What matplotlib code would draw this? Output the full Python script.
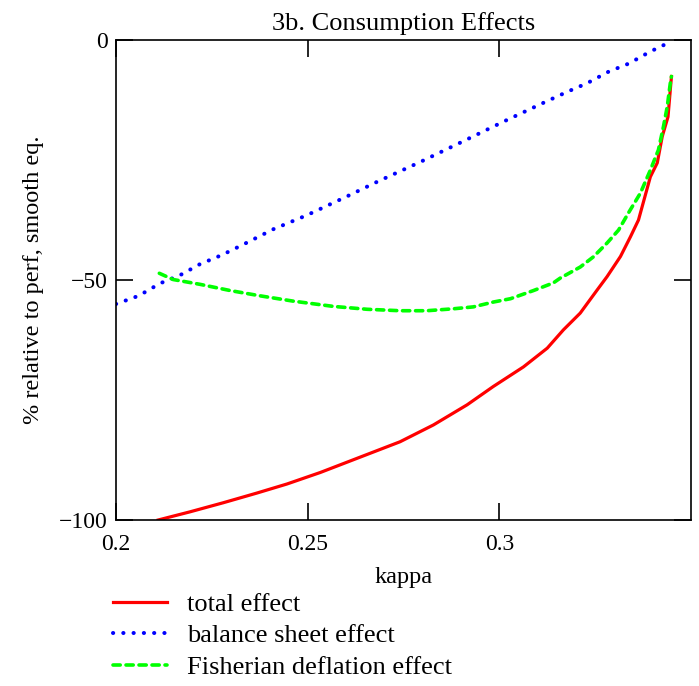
import matplotlib
matplotlib.use('Agg')
import matplotlib.pyplot as plt
import numpy as np

plt.rcParams.update({
    'font.family': ['Liberation Serif', 'DejaVu Serif'],
    'font.size': 17,
    'axes.linewidth': 1.2,
})

RED = '#ff0000'
BLUE = '#0000ff'
GREEN = '#00ff00'

# kappa grid for each series and the consumption effect (% relative to perf. smooth eq.)
total_kappa = [0.2110, 0.2193, 0.2280, 0.2367, 0.2446, 0.2533, 0.2637, 0.2741,
               0.2828, 0.2916, 0.2984, 0.3063, 0.3125, 0.3167, 0.3211, 0.3255,
               0.3281, 0.3316, 0.3342, 0.3363, 0.3394, 0.3412, 0.3425, 0.3440,
               0.3449]
total_effect = [-100.0, -98.3, -96.4, -94.4, -92.5, -90.1, -86.9, -83.7,
                -80.2, -76.0, -72.2, -68.1, -64.2, -60.4, -56.9, -52.1,
                -49.3, -45.1, -41.0, -37.5, -28.5, -25.6, -20.1, -16.0,
                -7.6]

balance_kappa = [0.2000, 0.2059, 0.2115, 0.2167, 0.2219, 0.2276, 0.2332, 0.2411,
                 0.2498, 0.2602, 0.2685, 0.2794, 0.2903, 0.3011, 0.3120, 0.3177,
                 0.3229, 0.3285, 0.3338, 0.3394, 0.3446]
balance_effect = [-55.0, -53.3, -50.7, -49.0, -46.7, -44.8, -42.6, -39.4,
                  -36.5, -32.6, -29.4, -25.4, -21.2, -17.0, -12.9, -10.8,
                  -9.0, -6.6, -4.9, -2.4, -0.4]

fisher_kappa = [0.2113, 0.2149, 0.2219, 0.2298, 0.2376, 0.2462, 0.2567, 0.2655,
                0.2741, 0.2811, 0.2880, 0.2932, 0.2984, 0.3029, 0.3089, 0.3141,
                0.3159, 0.3211, 0.3245, 0.3281, 0.3311, 0.3337, 0.3368, 0.3394,
                0.3415, 0.3428, 0.3438, 0.3446, 0.3449]
fisher_effect = [-48.6, -49.9, -50.9, -52.2, -53.3, -54.4, -55.5, -56.1,
                 -56.4, -56.4, -56.0, -55.6, -54.6, -53.9, -52.2, -50.6,
                 -49.6, -47.3, -45.2, -42.3, -39.6, -36.0, -31.9, -27.1,
                 -22.9, -18.1, -13.9, -9.0, -7.6]

x_ticks = [0.2, 0.25, 0.3]
x_tick_labels = ['0.2', '0.25', '0.3']
y_ticks = [-100, -50, 0]

fig = plt.figure(figsize=(6.99, 6.86), dpi=100)
ax = fig.add_axes([116 / 699, 1 - 520 / 686, 575 / 699, 480 / 686])

ax.plot(total_kappa, total_effect, color=RED, lw=2.3, label='total effect')
ax.plot(balance_kappa, balance_effect, color=BLUE, lw=2.9,
        dashes=[0.05, 2.5], dash_capstyle='round', label='balance sheet effect')
ax.plot(fisher_kappa, fisher_effect, color=GREEN, lw=2.6,
        dashes=[2.0, 1.6], dash_capstyle='round', label='Fisherian deflation effect')

ax.set_xlim(0.2, 0.35)
ax.set_ylim(-100, 0)
ax.set_xticks(x_ticks)
ax.set_xticklabels(x_tick_labels)
ax.set_yticks(y_ticks)
ax.tick_params(direction='in', length=12, width=1.2, top=True, right=True,
               labelsize=17)
ax.tick_params(axis='x', pad=10)
ax.tick_params(axis='y', pad=6)

ax.set_title('3b. Consumption Effects', fontsize=19, pad=7)
ax.set_xlabel('kappa', fontsize=17.5, labelpad=9)
ax.set_ylabel('% relative to perf, smooth eq.', fontsize=17.5, labelpad=11)

fig.legend(loc='upper left', bbox_to_anchor=(102 / 699, 1 - 582 / 686),
           frameon=False, fontsize=19, handlelength=2.05, handletextpad=0.76,
           labelspacing=0.3, borderaxespad=0)

fig.savefig('out.png', dpi=100)
